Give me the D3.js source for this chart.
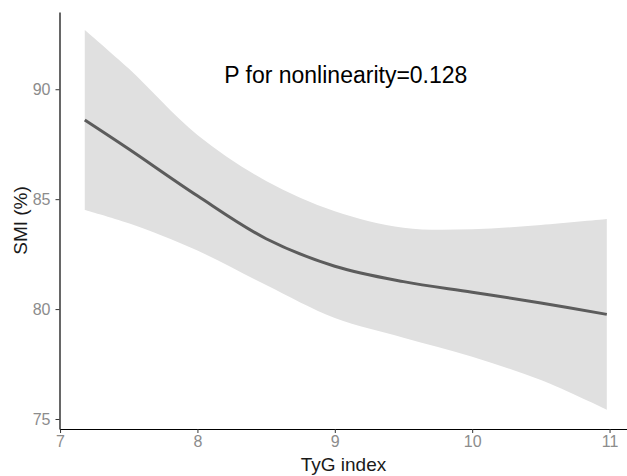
<!DOCTYPE html>
<html>
<head>
<meta charset="utf-8">
<script src="https://cdn.jsdelivr.net/npm/d3@7"></script>
<style>
  body { margin: 0; background: #fff; }
  svg { display: block; font-family: "Liberation Sans", Arial, sans-serif; }
</style>
</head>
<body>
<div id="chart"></div>
<script>
// spline fit of SMI on TyG index
var tyg   = [7.18, 7.5, 8, 8.5, 9, 9.5, 10, 10.5, 10.98];
var fit   = [88.60, 87.28, 85.15, 83.20, 81.95, 81.25, 80.77, 80.28, 79.76];
var upper = [92.70, 90.94, 87.92, 85.83, 84.45, 83.70, 83.63, 83.83, 84.10];
var lower = [84.51, 83.90, 82.66, 81.09, 79.59, 78.70, 77.83, 76.77, 75.42];
var xTicks = [7, 8, 9, 10, 11];
var yTicks = [75, 80, 85, 90];
var note = "P for nonlinearity=0.128";

var width = 627, height = 476;
var svg = d3.select('#chart').append('svg')
    .attr('width', width)
    .attr('height', height);

var x = d3.scaleLinear().domain([6.996, 11.127]).range([59.5, 627]);
var y = d3.scaleLinear().domain([74.545, 93.514]).range([429, 12]);

var rows = tyg.map((t, i) => ({x: t, y: fit[i], lo: lower[i], hi: upper[i]}));

svg.append('path')
    .datum(rows)
    .attr('fill', '#e0e0e0')
    .attr('d', d3.area()
        .curve(d3.curveCatmullRom)
        .x(d => x(d.x))
        .y0(d => y(d.lo))
        .y1(d => y(d.hi)));

svg.append('path')
    .datum(rows)
    .attr('fill', 'none')
    .attr('stroke', '#5c5c5c')
    .attr('stroke-width', 3)
    .attr('d', d3.line()
        .curve(d3.curveCatmullRom)
        .x(d => x(d.x))
        .y(d => y(d.y)));

var xAxis = svg.append('g')
    .attr('transform', 'translate(0,429)')
    .call(d3.axisBottom(x).tickValues(xTicks).tickFormat(d3.format('d'))
        .tickSize(4).tickPadding(3).tickSizeOuter(0));

var yAxis = svg.append('g')
    .attr('transform', 'translate(59.5,0)')
    .call(d3.axisLeft(y).tickValues(yTicks).tickFormat(d3.format('d'))
        .tickSize(4).tickPadding(5).tickSizeOuter(0));

[xAxis, yAxis].forEach(function(g) {
    g.select('.domain').attr('stroke', '#000').attr('stroke-width', 1.2);
    g.selectAll('.tick line').attr('stroke', '#333');
    g.selectAll('.tick text')
        .attr('fill', '#8c8c8c')
        .style('font-size', '16px')
        .style('font-family', '"Liberation Sans", Arial, sans-serif');
});

svg.append('text')
    .attr('x', 343.5)
    .attr('y', 471)
    .attr('text-anchor', 'middle')
    .attr('fill', '#1a1a1a')
    .style('font-size', '19px')
    .text('TyG index');

svg.append('text')
    .attr('transform', 'translate(27,220.5) rotate(-90)')
    .attr('text-anchor', 'middle')
    .attr('fill', '#1a1a1a')
    .style('font-size', '19px')
    .text('SMI (%)');

svg.append('text')
    .attr('x', 345.8)
    .attr('y', 83)
    .attr('text-anchor', 'middle')
    .attr('fill', '#000')
    .style('font-size', '23px')
    .text(note);
</script>
</body>
</html>
